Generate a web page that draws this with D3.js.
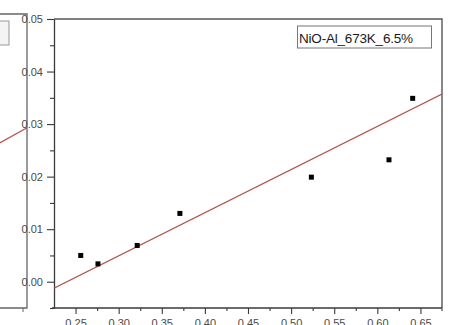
<!DOCTYPE html>
<html>
<head>
<meta charset="utf-8">
<script src="https://cdn.jsdelivr.net/npm/d3@7"></script>
<style>
  html, body { margin: 0; padding: 0; background: #fff; overflow: hidden; }
  svg { display: block; font-family: "Liberation Sans", Arial, sans-serif; }
</style>
</head>
<body>
<svg id="chart" width="457" height="325"></svg>
<script>
// Measured points (x, y)
const xValues = [0.256, 0.276, 0.3215, 0.371, 0.5235, 0.6135, 0.641];
const yValues = [0.0050, 0.0034, 0.0069, 0.0130, 0.0199, 0.0232, 0.0349];

// Linear fit shown on the plot
const fitSlope = 0.0821;
const fitIntercept = -0.0197;

// Fit line of the adjacent panel (only its right edge is visible)
const neighborSlope = 0.0895;
const neighborIntercept = -0.0317;

// Axes
const xDomain = [0.225, 0.675];
const yDomain = [-0.005, 0.05];
const xTickValues = [0.25, 0.30, 0.35, 0.40, 0.45, 0.50, 0.55, 0.60, 0.65];
const xMinorTicks = [0.275, 0.325, 0.375, 0.425, 0.475, 0.525, 0.575, 0.625];
const yTickValues = [0.00, 0.01, 0.02, 0.03, 0.04, 0.05];
const yMinorTicks = [-0.005, 0.005, 0.015, 0.025, 0.035, 0.045];

const legendLabel = "NiO-Al_673K_6.5%";

const svg = d3.select("#chart");
const mLeft = 54, mRight = 442, mTop = 19, mBottom = 308;

const x = d3.scaleLinear().domain(xDomain).range([mLeft, mRight]);
const y = d3.scaleLinear().domain(yDomain).range([mBottom, mTop]);

const axisColor = "#3a3a3a";
const labelColor = "#4a4a4a";

// ---- adjacent panel edge on the left ----
const nLeft = -361, nRight = 27, nTop = 14, nBottom = 308;
const nx = d3.scaleLinear().domain(xDomain).range([nLeft, nRight]);
const ny = d3.scaleLinear().domain(yDomain).range([nBottom, nTop]);
svg.append("clipPath").attr("id", "nclip")
  .append("rect").attr("x", 0).attr("y", nTop).attr("width", nRight).attr("height", nBottom - nTop);
svg.append("line")
  .attr("x1", nx(xDomain[0])).attr("x2", nx(xDomain[1]))
  .attr("y1", ny(neighborIntercept + neighborSlope * xDomain[0]))
  .attr("y2", ny(neighborIntercept + neighborSlope * xDomain[1]))
  .attr("stroke", "#c0504d").attr("stroke-width", 1.2)
  .attr("clip-path", "url(#nclip)");
svg.append("rect").attr("x", -20).attr("y", 21).attr("width", 29).attr("height", 24)
  .attr("fill", "#f4f4f4").attr("stroke", "#999").attr("stroke-width", 1);
svg.append("path")
  .attr("d", `M0,${nTop}H${nRight}V${nBottom}H0`)
  .attr("fill", "none").attr("stroke", "#666").attr("stroke-width", 1.3);
svg.append("line").attr("x1", 23).attr("x2", 23).attr("y1", nBottom).attr("y2", nBottom + 4)
  .attr("stroke", "#666");

// ---- main panel frame ----
svg.append("path")
  .attr("d", `M${mLeft},${mTop}H${mRight}V${mBottom}`)
  .attr("fill", "none").attr("stroke", "#555").attr("stroke-width", 1.4);

// Y axis
const yAxis = d3.axisLeft(y).tickValues(yTickValues).tickFormat(d3.format(".2f"))
  .tickSizeInner(7).tickSizeOuter(0).tickPadding(4);
const gy = svg.append("g").attr("transform", `translate(${mLeft},0)`).call(yAxis);
gy.select(".domain").attr("stroke", axisColor).attr("stroke-width", 1.3);
gy.selectAll(".tick line").attr("stroke", axisColor).attr("stroke-width", 1.1);
gy.selectAll(".tick text").attr("fill", labelColor).attr("font-size", "11px")
  .attr("font-family", "Liberation Sans, Arial, sans-serif");
const gyMinor = d3.axisLeft(y).tickValues(yMinorTicks).tickFormat("").tickSizeInner(4).tickSizeOuter(0);
const gym = svg.append("g").attr("transform", `translate(${mLeft},0)`).call(gyMinor);
gym.select(".domain").remove();
gym.selectAll(".tick line").attr("stroke", axisColor).attr("stroke-width", 1.1);

// X axis
const xAxis = d3.axisBottom(x).tickValues(xTickValues).tickFormat(d3.format(".2f"))
  .tickSizeInner(6).tickSizeOuter(0).tickPadding(5);
const gx = svg.append("g").attr("transform", `translate(0,${mBottom})`).call(xAxis);
gx.select(".domain").attr("stroke", axisColor).attr("stroke-width", 1.3)
  .attr("d", `M${mLeft - 2},0H${mRight}`);
gx.selectAll(".tick line").attr("stroke", axisColor).attr("stroke-width", 1.1);
gx.selectAll(".tick text").attr("fill", labelColor).attr("font-size", "11px")
  .attr("font-family", "Liberation Sans, Arial, sans-serif");
const gxMinor = d3.axisBottom(x).tickValues(xMinorTicks).tickFormat("").tickSizeInner(3).tickSizeOuter(0);
const gxm = svg.append("g").attr("transform", `translate(0,${mBottom})`).call(gxMinor);
gxm.select(".domain").remove();
gxm.selectAll(".tick line").attr("stroke", axisColor).attr("stroke-width", 1.1);
svg.append("line").attr("x1", mRight).attr("x2", mRight).attr("y1", mBottom).attr("y2", mBottom + 3)
  .attr("stroke", axisColor).attr("stroke-width", 1.1);

// Fit line, clipped to the plot area
svg.append("clipPath").attr("id", "plotclip")
  .append("rect").attr("x", mLeft).attr("y", mTop).attr("width", mRight - mLeft).attr("height", mBottom - mTop);
const fitLine = d3.line().x(d => x(d)).y(d => y(fitIntercept + fitSlope * d));
svg.append("path").datum(xDomain)
  .attr("d", fitLine)
  .attr("fill", "none").attr("stroke", "#b5524e").attr("stroke-width", 1.3)
  .attr("clip-path", "url(#plotclip)");

// Data points
const pts = xValues.map((v, i) => [v, yValues[i]]);
const sz = 5;
svg.append("g").selectAll("rect").data(pts).join("rect")
  .attr("x", d => x(d[0]) - sz / 2).attr("y", d => y(d[1]) - sz / 2)
  .attr("width", sz).attr("height", sz).attr("fill", "#000");

// Legend
const lg = svg.append("g");
lg.append("rect").attr("x", 297.5).attr("y", 26).attr("width", 134).attr("height", 22)
  .attr("fill", "#fff").attr("stroke", "#777").attr("stroke-width", 1);
lg.append("text").attr("x", 299).attr("y", 42.5)
  .attr("font-size", "13.5px").attr("fill", "#1a1a1a").attr("letter-spacing", "-0.2")
  .text(legendLabel);
</script>
</body>
</html>
